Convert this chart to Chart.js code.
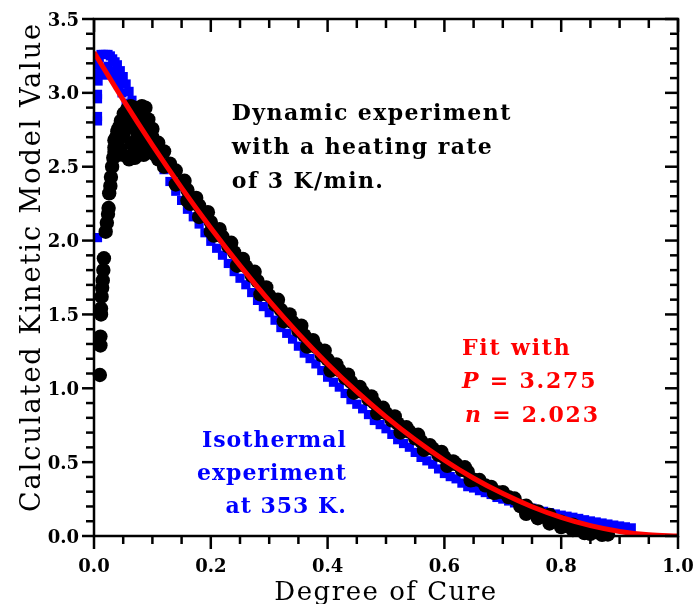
<!DOCTYPE html>
<html>
<head>
<meta charset="utf-8">
<script src="https://cdn.jsdelivr.net/npm/chart.js@4.4.1/dist/chart.umd.min.js"></script>
<style>
  html, body { margin: 0; padding: 0; background: #fff; }
  #wrap { width: 694px; height: 604px; }
</style>
</head>
<body>
<div id="wrap"><canvas id="cureChart" width="694" height="604"></canvas></div>
<script>
// tick labels
const xTickValues = [0.0, 0.2, 0.4, 0.6, 0.8, 1.0];
const xTickLabels = ['0.0', '0.2', '0.4', '0.6', '0.8', '1.0'];
const yTickValues = [0.0, 0.5, 1.0, 1.5, 2.0, 2.5, 3.0, 3.5];
const yTickLabels = ['0.0', '0.5', '1.0', '1.5', '2.0', '2.5', '3.0', '3.5'];

// dynamic run, 3 K/min (black dots)
const dynamicCure = [
  // rising start
  0.010, 0.011, 0.011, 0.012, 0.012, 0.013, 0.014, 0.015, 0.016, 0.017, 0.020, 0.022,
  0.024, 0.025, 0.026, 0.028, 0.029, 0.031, 0.033, 0.035, 0.038, 0.042, 0.046, 0.051,
  0.057, 0.063, 0.069, 0.076, 0.082, 0.088, 0.064, 0.070, 0.074, 0.080, 0.085, 0.093,
  // cluster around the maximum
  0.035, 0.035, 0.040, 0.040, 0.040, 0.045, 0.045, 0.045, 0.050, 0.050, 0.050,
  0.055, 0.055, 0.060, 0.060, 0.060, 0.065, 0.065, 0.070, 0.070, 0.070,
  0.075, 0.075, 0.075, 0.080, 0.080, 0.080, 0.085, 0.085, 0.085,
  0.090, 0.090, 0.095, 0.095, 0.100, 0.100, 0.105, 0.105, 0.110,
  0.12, 0.14, 0.16, 0.18, 0.20,
  // main band
  0.10, 0.11, 0.12, 0.13, 0.14, 0.15, 0.16, 0.17, 0.18, 0.19,
  0.20, 0.21, 0.22, 0.23, 0.24, 0.25, 0.26, 0.27, 0.28, 0.29,
  0.30, 0.31, 0.32, 0.33, 0.34, 0.35, 0.36, 0.37, 0.38, 0.39,
  0.40, 0.41, 0.42, 0.43, 0.44, 0.45, 0.46, 0.47, 0.48, 0.49,
  0.50, 0.51, 0.52, 0.53, 0.54, 0.55, 0.56, 0.57, 0.58, 0.59,
  0.60, 0.61, 0.62, 0.63, 0.64, 0.65, 0.66, 0.67, 0.68, 0.69,
  0.70, 0.71, 0.72, 0.73, 0.74, 0.75, 0.76, 0.77, 0.78, 0.79,
  0.80, 0.81, 0.82, 0.83, 0.84, 0.85, 0.86, 0.87, 0.88,
  // upper edge of the band
  0.155, 0.175, 0.195, 0.215, 0.235, 0.255, 0.275, 0.295, 0.315, 0.335,
  0.355, 0.375, 0.395, 0.415, 0.435, 0.455, 0.475, 0.495, 0.515, 0.535,
  0.555, 0.575, 0.595, 0.615, 0.635,
  // lower edge of the band and the tail
  0.165, 0.205, 0.245, 0.285, 0.325, 0.365, 0.405, 0.445, 0.485, 0.525,
  0.565, 0.605, 0.645, 0.685,
  0.74, 0.76, 0.78, 0.80, 0.82, 0.84
];
const dynamicValue = [
  1.09, 1.29, 1.35, 1.50, 1.54, 1.62, 1.68, 1.73, 1.80, 1.88, 2.06, 2.12,
  2.18, 2.22, 2.32, 2.37, 2.43, 2.50, 2.56, 2.63, 2.70, 2.76, 2.81, 2.86,
  2.89, 2.91, 2.90, 2.88, 2.91, 2.90, 2.66, 2.62, 2.70, 2.78, 2.80, 2.82,
  2.60, 2.68, 2.58, 2.66, 2.74, 2.62, 2.70, 2.78, 2.58, 2.72, 2.80,
  2.76, 2.84, 2.55, 2.78, 2.86, 2.56, 2.80, 2.56, 2.78, 2.86,
  2.60, 2.72, 2.84, 2.62, 2.70, 2.85, 2.58, 2.68, 2.84,
  2.62, 2.76, 2.60, 2.70, 2.60, 2.70, 2.58, 2.66, 2.55,
  2.50, 2.38, 2.27, 2.16, 2.06,
  2.756, 2.662, 2.604, 2.521, 2.474, 2.387, 2.342, 2.271, 2.237, 2.168,
  2.125, 2.058, 2.026, 1.960, 1.920, 1.855, 1.826, 1.763, 1.725, 1.663,
  1.627, 1.566, 1.531, 1.472, 1.448, 1.390, 1.358, 1.301, 1.280, 1.225,
  1.195, 1.141, 1.123, 1.070, 1.043, 0.992, 0.976, 0.927, 0.902, 0.854,
  0.831, 0.783, 0.762, 0.716, 0.706, 0.661, 0.642, 0.599, 0.591, 0.549,
  0.533, 0.492, 0.487, 0.448, 0.434, 0.381, 0.379, 0.343, 0.332, 0.296,
  0.297, 0.263, 0.254, 0.202, 0.205, 0.173, 0.167, 0.137, 0.143, 0.099,
  0.096, 0.069, 0.077, 0.041, 0.040, 0.015, 0.026, 0.008, 0.010,
  2.405, 2.289, 2.192, 2.077, 1.985, 1.876, 1.789, 1.683, 1.599, 1.500,
  1.424, 1.326, 1.255, 1.162, 1.092, 1.009, 0.945, 0.868, 0.810, 0.736,
  0.685, 0.615, 0.569, 0.505, 0.465,
  2.249, 2.034, 1.830, 1.636, 1.454, 1.282, 1.120, 0.970, 0.830, 0.701,
  0.583, 0.475, 0.377, 0.291,
  0.150, 0.120, 0.085, 0.060, 0.040, 0.020
];

// isothermal run at 353 K (blue squares)
const isoCure = [
  0.006, 0.006, 0.006, 0.006, 0.006, 0.007, 0.008, 0.008, 0.009,
  0.012, 0.016, 0.020, 0.024, 0.028, 0.032, 0.036, 0.040, 0.045, 0.050,
  0.055, 0.060, 0.065, 0.070, 0.076, 0.082, 0.088,
  0.013, 0.018, 0.024, 0.030, 0.036, 0.042, 0.048, 0.055, 0.062, 0.070,
  0.08, 0.09, 0.10, 0.11, 0.12, 0.13,
  0.14, 0.15, 0.16, 0.17, 0.18, 0.19, 0.20, 0.21, 0.22, 0.23,
  0.24, 0.25, 0.26, 0.27, 0.28, 0.29, 0.30, 0.31, 0.32, 0.33,
  0.34, 0.35, 0.36, 0.37, 0.38, 0.39, 0.40, 0.41, 0.42, 0.43,
  0.44, 0.45, 0.46, 0.47, 0.48, 0.49, 0.50, 0.51, 0.52, 0.53,
  0.54, 0.55, 0.56, 0.57, 0.58, 0.59, 0.60, 0.61, 0.62, 0.63,
  0.64, 0.65, 0.66, 0.67, 0.68, 0.69, 0.70, 0.71, 0.72, 0.73,
  0.74, 0.75, 0.76, 0.77, 0.78, 0.79, 0.80, 0.81, 0.82, 0.83,
  0.84, 0.85, 0.86, 0.87, 0.88, 0.89, 0.90, 0.91, 0.92
];
const isoValue = [
  2.02, 2.81, 2.84, 2.96, 2.99, 3.08, 3.13, 3.19, 3.24,
  3.26, 3.26, 3.26, 3.26, 3.25, 3.23, 3.21, 3.19, 3.15, 3.11,
  3.06, 3.01, 2.95, 2.90, 2.86, 2.82, 2.77,
  3.14, 3.12, 3.18, 3.15, 3.10, 3.05, 3.00, 2.93, 2.87, 2.80,
  2.74, 2.70, 2.64, 2.56, 2.48, 2.40,
  2.334, 2.272, 2.212, 2.161, 2.112, 2.053, 1.995, 1.948, 1.901, 1.845,
  1.790, 1.745, 1.701, 1.648, 1.595, 1.553, 1.512, 1.461, 1.411, 1.372,
  1.333, 1.285, 1.238, 1.201, 1.165, 1.120, 1.075, 1.041, 1.008, 0.965,
  0.923, 0.892, 0.861, 0.822, 0.782, 0.754, 0.726, 0.688, 0.652, 0.626,
  0.601, 0.566, 0.532, 0.509, 0.486, 0.454, 0.423, 0.402, 0.387, 0.358,
  0.334, 0.325, 0.307, 0.294, 0.281, 0.261, 0.250, 0.237, 0.224, 0.212,
  0.200, 0.188, 0.177, 0.167, 0.158, 0.149, 0.141, 0.134, 0.127, 0.119,
  0.110, 0.102, 0.095, 0.088, 0.081, 0.074, 0.068, 0.062, 0.055
];

// fitted curve, P = 3.275, n = 2.023
const fitCure = [0.00, 0.05, 0.10, 0.15, 0.20, 0.25, 0.30, 0.35, 0.40, 0.45, 0.50,
                 0.55, 0.60, 0.65, 0.70, 0.75, 0.80, 0.85, 0.90, 0.95, 1.00];
const fitValue = [3.275, 2.952, 2.646, 2.357, 2.085, 1.830, 1.592, 1.370, 1.165, 0.977, 0.806,
                  0.651, 0.513, 0.391, 0.287, 0.198, 0.126, 0.070, 0.031, 0.008, 0.000];

const toPoints = (xs, ys) => xs.map((v, i) => ({ x: v, y: ys[i] }));

const SERIF = '"DejaVu Serif", "Liberation Serif", serif';

function drawSpaced(ctx, text, x, y, spacing) {
  ctx.letterSpacing = spacing + 'px';
  ctx.fillText(text, x, y);
  ctx.letterSpacing = '0px';
}

// text runs: [string, italic]
function drawRuns(ctx, runs, x, y, size, spacing) {
  let cx = x;
  ctx.letterSpacing = spacing + 'px';
  runs.forEach(([t, italic]) => {
    ctx.font = (italic ? 'italic ' : '') + 'bold ' + size + 'px ' + SERIF;
    ctx.fillText(t, cx, y);
    cx += ctx.measureText(t).width;
  });
  ctx.letterSpacing = '0px';
  return cx - x;
}

function runsWidth(ctx, runs, size, spacing) {
  let w = 0;
  ctx.letterSpacing = spacing + 'px';
  runs.forEach(([t, italic]) => {
    ctx.font = (italic ? 'italic ' : '') + 'bold ' + size + 'px ' + SERIF;
    w += ctx.measureText(t).width;
  });
  ctx.letterSpacing = '0px';
  return w;
}

const framePlugin = {
  id: 'framePlugin',
  afterDraw(chart) {
    const { ctx, chartArea: a, scales: { x, y } } = chart;
    ctx.save();
    ctx.strokeStyle = '#000';
    ctx.lineWidth = 2.5;
    ctx.lineCap = 'butt';
    ctx.strokeRect(a.left, a.top, a.right - a.left, a.bottom - a.top);

    const seg = (x1, y1, x2, y2) => {
      ctx.beginPath(); ctx.moveTo(x1, y1); ctx.lineTo(x2, y2); ctx.stroke();
    };
    // x ticks: minor every 0.05, major every 0.2
    for (let i = 0; i <= 20; i++) {
      const px = x.getPixelForValue(i * 0.05);
      const major = i % 4 === 0;
      seg(px, a.bottom, px, a.bottom + (major ? 13 : 8));
      seg(px, a.top, px, a.top + (major ? 13 : 9));
    }
    // y ticks: minor every 0.1, major every 0.5
    for (let i = 0; i <= 35; i++) {
      const py = y.getPixelForValue(i * 0.1);
      const major = i % 5 === 0;
      seg(a.left - (major ? 12 : 8), py, a.left, py);
      seg(a.right - (major ? 13 : 8), py, a.right, py);
    }

    // tick labels
    ctx.fillStyle = '#000';
    ctx.font = 'bold 18px ' + SERIF;
    ctx.textBaseline = 'alphabetic';
    ctx.textAlign = 'center';
    xTickValues.forEach((v, i) => {
      ctx.fillText(xTickLabels[i], x.getPixelForValue(v), a.bottom + 36);
    });
    ctx.textAlign = 'right';
    yTickValues.forEach((v, i) => {
      ctx.fillText(yTickLabels[i], a.left - 15, y.getPixelForValue(v) + 6.5);
    });

    // axis titles
    ctx.font = '26px ' + SERIF;
    ctx.textAlign = 'center';
    drawSpaced(ctx, 'Degree of Cure', (a.left + a.right) / 2, 600, 1.5);
    ctx.save();
    ctx.translate(40, 267);
    ctx.rotate(-Math.PI / 2);
    ctx.font = '27px ' + SERIF;
    drawSpaced(ctx, 'Calculated Kinetic Model Value', 0, 0, 2);
    ctx.restore();

    // annotations
    const size = 22, sp = 1.4;
    ctx.textAlign = 'left';
    ctx.fillStyle = '#000';
    ctx.font = 'bold ' + size + 'px ' + SERIF;
    const dynX = x.getPixelForValue(0.236);
    ['Dynamic experiment', 'with a heating rate', 'of 3 K/min.'].forEach((t, i) => {
      drawSpaced(ctx, t, dynX, y.getPixelForValue(2.817 - i * 0.232), sp);
    });

    ctx.fillStyle = '#ff0000';
    const fitX = x.getPixelForValue(0.630);
    drawRuns(ctx, [['Fit with', false]], fitX, y.getPixelForValue(1.225), size, 1.8);
    drawRuns(ctx, [['P', true], [' = 3.275', false]], fitX, y.getPixelForValue(1.002), size, 1.8);
    drawRuns(ctx, [['n', true], [' = 2.023', false]], fitX + 3, y.getPixelForValue(0.772), size, 1.8);

    ctx.fillStyle = '#0000ff';
    const isoRight = x.getPixelForValue(0.433);
    ['Isothermal', 'experiment', 'at 353 K.'].forEach((t, i) => {
      const w = runsWidth(ctx, [[t, false]], size, 1);
      drawRuns(ctx, [[t, false]], isoRight - w, y.getPixelForValue(0.603 - i * 0.2235), size, 1);
    });
    ctx.restore();
  }
};

const ctx = document.getElementById('cureChart').getContext('2d');
const cureChart = new Chart(ctx, {
  type: 'scatter',
  data: {
    datasets: [
      {
        label: 'Fit',
        data: toPoints(fitCure, fitValue),
        showLine: true,
        borderColor: '#ff0000',
        borderWidth: 5,
        pointRadius: 0,
        cubicInterpolationMode: 'monotone',
        order: 0
      },
      {
        label: 'Dynamic',
        data: toPoints(dynamicCure, dynamicValue),
        backgroundColor: '#000',
        borderColor: '#000',
        borderWidth: 0,
        pointRadius: 7.2,
        clip: false,
        order: 1
      },
      {
        label: 'Isothermal',
        data: toPoints(isoCure, isoValue),
        pointStyle: 'rect',
        backgroundColor: '#0000ff',
        borderColor: '#0000ff',
        borderWidth: 0,
        pointRadius: 6.5,
        clip: false,
        order: 2
      }
    ]
  },
  options: {
    responsive: false,
    animation: false,
    layout: { padding: { left: 0, right: 16, top: 19, bottom: 0 } },
    plugins: { legend: { display: false }, tooltip: { enabled: false } },
    scales: {
      x: {
        type: 'linear', min: 0, max: 1,
        grid: { display: false, drawTicks: false },
        border: { display: false },
        ticks: { display: false },
        afterFit: s => { s.height = 68; s.paddingLeft = 0; s.paddingRight = 0; }
      },
      y: {
        type: 'linear', min: 0, max: 3.5,
        grid: { display: false, drawTicks: false },
        border: { display: false },
        ticks: { display: false },
        afterFit: s => { s.width = 94; s.paddingTop = 0; s.paddingBottom = 0; }
      }
    }
  },
  plugins: [framePlugin]
});
</script>
</body>
</html>
